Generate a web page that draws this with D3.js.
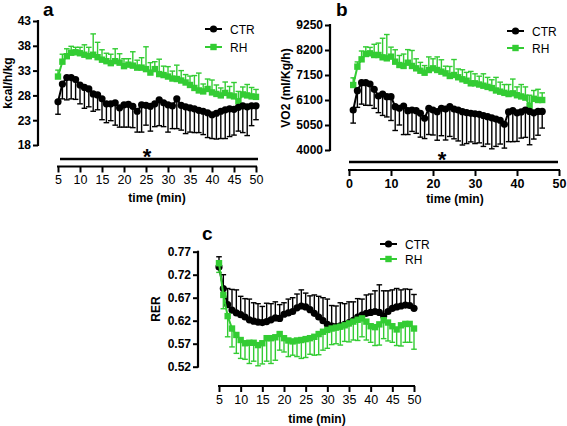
<!DOCTYPE html>
<html><head><meta charset="utf-8">
<script src="https://cdn.jsdelivr.net/npm/d3@7"></script>
<style>body{margin:0;background:#fff}svg{display:block}text{font-family:"Liberation Sans",Arial,sans-serif}</style>
</head><body>
<svg id="c" width="567" height="426"></svg>
<script>
// ---------- DATA ----------
const timeA = d3.range(5, 51);   // 5..50 min
const timeB = d3.range(1, 47);   // 1..46 min
const timeC = d3.range(5, 51);

const ctrA = [26.7,30.3,31.6,31.6,31.2,30.1,29.6,29.3,28.3,28.1,27.3,26.3,26.3,26.5,25.5,26.1,26.2,25.8,24.8,26.1,26.0,25.8,26.3,27.1,26.5,26.1,25.9,27.3,26.0,25.7,25.5,25.3,25.0,24.8,24.5,24.1,24.4,24.8,25.1,25.3,25.2,25.6,25.9,25.7,25.9,25.9];
const ctrAErr = [2.5,3.0,4.5,4.3,4.0,3.8,4.2,3.6,3.5,3.0,4.2,3.8,3.4,4.5,3.9,4.5,4.6,4.3,4.2,5.5,4.0,5.0,4.6,5.2,4.8,5.5,4.6,6.0,5.0,5.4,4.9,4.8,4.5,4.7,5.0,4.8,5.2,5.5,5.8,5.6,5.2,4.8,5.4,5.8,4.0,2.8];
const rhA = [31.8,34.8,35.9,36.6,36.7,36.5,36.2,35.9,36.2,35.7,35.2,34.9,34.5,34.9,34.6,33.9,34.2,34.0,33.6,33.6,33.3,32.6,33.3,32.3,32.1,31.8,31.4,31.3,31.0,30.6,30.1,29.5,29.0,28.8,29.3,28.6,28.3,28.0,28.5,28.0,27.8,26.8,28.2,28.0,27.8,27.7];
const rhAErr = [1.3,1.5,1.5,1.3,1.0,1.2,2.0,1.8,4.2,3.0,2.0,1.6,1.8,2.5,1.8,1.5,1.2,2.8,1.5,2.0,4.5,2.0,1.5,3.0,1.8,2.0,1.5,2.8,2.0,1.6,1.8,2.5,3.5,1.5,2.0,2.5,1.8,1.5,2.2,1.8,2.8,2.0,1.5,2.2,1.8,1.5];

const ctrB = [5680,6491,6827,6827,6772,6549,6268,6352,6239,6239,5819,5750,5848,5650,5680,5650,5540,5330,5750,5680,5610,5750,5720,5819,5720,5680,5610,5570,5540,5520,5500,5450,5400,5350,5300,5250,5080,5600,5650,5560,5600,5680,5620,5560,5620,5620];
const ctrBErr = [550,700,900,950,900,800,700,900,850,1000,1000,700,1200,1000,900,950,1000,850,1100,1050,1200,1150,1300,1250,1250,1300,1400,1300,1200,1250,1200,1300,1150,1300,1150,1000,1000,1250,1300,1200,1100,1150,1400,1100,1000,700];
const rhB = [6730,7500,7808,8032,8060,7990,7990,7893,7850,7920,7710,7570,7530,7666,7530,7430,7330,7246,7360,7430,7360,7290,7220,7108,7150,7054,6970,6910,6800,6800,6750,6700,6650,6600,6500,6450,6400,6350,6380,6300,6250,6200,5850,6150,6100,6100];
const rhBErr = [300,200,350,300,250,450,500,800,1000,400,500,400,500,550,650,400,350,300,550,400,550,500,300,400,650,350,400,350,500,400,350,500,400,350,550,400,350,400,600,350,500,450,450,350,450,300];

const ctrC = [0.737,0.690,0.655,0.643,0.637,0.633,0.628,0.622,0.619,0.617,0.616,0.618,0.622,0.626,0.625,0.634,0.637,0.640,0.648,0.652,0.650,0.644,0.636,0.628,0.620,0.612,0.608,0.607,0.609,0.612,0.616,0.621,0.628,0.632,0.636,0.638,0.640,0.638,0.630,0.640,0.647,0.650,0.652,0.654,0.653,0.647];
const ctrCErr = [0.022,0.030,0.035,0.045,0.050,0.040,0.040,0.045,0.040,0.040,0.035,0.040,0.035,0.035,0.030,0.025,0.030,0.030,0.030,0.035,0.030,0.030,0.040,0.045,0.050,0.055,0.045,0.045,0.050,0.045,0.045,0.040,0.040,0.035,0.040,0.040,0.045,0.060,0.055,0.045,0.040,0.040,0.035,0.035,0.035,0.030];
const rhC = [0.745,0.676,0.630,0.603,0.589,0.578,0.571,0.572,0.572,0.567,0.571,0.582,0.582,0.584,0.591,0.582,0.577,0.575,0.577,0.578,0.580,0.582,0.585,0.591,0.596,0.600,0.603,0.605,0.607,0.610,0.614,0.618,0.622,0.625,0.618,0.608,0.606,0.612,0.621,0.616,0.608,0.601,0.610,0.613,0.613,0.603];
const rhCErr = [0.020,0.030,0.045,0.040,0.040,0.040,0.035,0.045,0.040,0.045,0.045,0.050,0.055,0.050,0.035,0.030,0.035,0.030,0.035,0.040,0.040,0.035,0.040,0.045,0.040,0.040,0.035,0.035,0.040,0.035,0.040,0.040,0.045,0.040,0.040,0.035,0.040,0.045,0.040,0.040,0.035,0.035,0.045,0.040,0.040,0.045];

const ticksXA = [5,10,15,20,25,30,35,40,45,50];
const ticksYA = [18,23,28,33,38,43];
const ticksXB = [0,10,20,30,40,50];
const ticksYB = [4000,5050,6100,7150,8200,9250];
const ticksXC = [5,10,15,20,25,30,35,40,45,50];
const ticksYC = [0.52,0.57,0.62,0.67,0.72,0.77];
const seriesNames = ["CTR","RH"];

// ---------- DRAW ----------
const svg = d3.select("#c");
const GREEN = "#33cc33";

function panel(o){
  const g = svg.append("g");
  const x = d3.scaleLinear().domain(o.xDom).range(o.xRange);
  const y = d3.scaleLinear().domain(o.yDom).range(o.yRange);
  // y axis
  const ya = g.append("g").attr("transform",`translate(${o.yAxisX},0)`)
    .call(d3.axisLeft(y).tickValues(o.yTicks).tickSize(5).tickPadding(2).tickFormat(o.yFmt || d3.format("d")));
  ya.select(".domain").attr("stroke","#000").attr("stroke-width",2.2).attr("d",`M0,${o.yRange[0]+1}V${o.yRange[1]-1}`);
  ya.selectAll(".tick line").attr("stroke-width",2);
  ya.selectAll("text").attr("font-size",12).attr("font-weight","bold").attr("fill","#000");
  // x axis
  const xa = g.append("g").attr("transform",`translate(0,${o.xAxisY})`)
    .call(d3.axisBottom(x).tickValues(o.xTicks).tickSize(6).tickPadding(3));
  xa.select(".domain").attr("stroke-width",2.2).attr("d",`M${o.xRange[0]-1},0H${o.xRange[1]+1}`);
  xa.selectAll(".tick line").attr("stroke-width",2);
  xa.selectAll("text").attr("font-size",12.5).attr("font-weight",o.xBold?"bold":"normal").attr("fill","#000");
  // titles
  g.append("text").attr("x",o.xTitle[0]).attr("y",o.xTitle[1]).attr("text-anchor","middle")
    .attr("font-size",12).attr("font-weight","bold").text("time (min)");
  g.append("text").attr("transform",`translate(${o.yTitle[0]},${o.yTitle[1]}) rotate(-90)`).attr("text-anchor","middle")
    .attr("font-size",12).attr("font-weight","bold").text(o.yLabel);
  g.append("text").attr("x",o.letter[0]).attr("y",o.letter[1]).attr("font-size",19).attr("font-weight","bold").text(o.letterText);
  // significance bar
  if(o.sig){
    g.append("line").attr("x1",o.sig.x1).attr("x2",o.sig.x2).attr("y1",o.sig.y).attr("y2",o.sig.y).attr("stroke","#000").attr("stroke-width",2.5);
    g.append("text").attr("x",o.sig.sx).attr("y",o.sig.y+5).attr("text-anchor","middle").attr("font-size",22).attr("font-weight","bold").text("*");
  }
  // error bars
  function errs(t, v, e, dir, color){
    const eg = g.append("g").attr("stroke",color).attr("stroke-width",1.4);
    t.forEach((tt,i)=>{
      const xx = x(tt), y0 = y(v[i]), y1 = y(v[i] + dir*e[i]);
      eg.append("line").attr("x1",xx).attr("x2",xx).attr("y1",y0).attr("y2",y1);
      eg.append("line").attr("x1",xx-2.8).attr("x2",xx+2.8).attr("y1",y1).attr("y2",y1);
    });
  }
  const line = d3.line();
  function series(t, v, color, shape){
    g.append("path").attr("d", line(t.map((tt,i)=>[x(tt),y(v[i])]))).attr("fill","none").attr("stroke",color).attr("stroke-width",2);
    t.forEach((tt,i)=>{
      if(shape==="circle") g.append("circle").attr("cx",x(tt)).attr("cy",y(v[i])).attr("r",3.6).attr("fill",color);
      else g.append("rect").attr("x",x(tt)-3.2).attr("y",y(v[i])-3.2).attr("width",6.4).attr("height",6.4).attr("fill",color);
    });
  }
  errs(o.t, o.ctr, o.ctrErr, o.ctrDir, "#000");
  errs(o.t, o.rh, o.rhErr, o.rhDir, GREEN);
  if(o.greenOnTop){ series(o.t,o.ctr,"#000","circle"); series(o.t,o.rh,GREEN,"rect"); }
  else { series(o.t,o.rh,GREEN,"rect"); series(o.t,o.ctr,"#000","circle"); }
  // legend
  const L = o.legend;
  [[seriesNames[0],"#000","circle",0],[seriesNames[1],GREEN,"rect",1]].forEach(([name,col,sh,k])=>{
    const yy = L.y + k*L.dy;
    g.append("line").attr("x1",L.x).attr("x2",L.x+17).attr("y1",yy).attr("y2",yy).attr("stroke",col).attr("stroke-width",2);
    if(sh==="circle") g.append("circle").attr("cx",L.x+8.5).attr("cy",yy).attr("r",3.6).attr("fill",col);
    else g.append("rect").attr("x",L.x+5.3).attr("y",yy-3.2).attr("width",6.4).attr("height",6.4).attr("fill",col);
    g.append("text").attr("x",L.x+25).attr("y",yy+4.5).attr("font-size",12).text(name);
  });
}

panel({t:timeA, ctr:ctrA, ctrErr:ctrAErr, ctrDir:-1, rh:rhA, rhErr:rhAErr, rhDir:1,
  xDom:[5,50], xRange:[58,256], yDom:[18,43], yRange:[145,21], yAxisX:38, xAxisY:166.5,
  xTicks:ticksXA, yTicks:ticksYA, xBold:false, xTitle:[157,202], yTitle:[12,83], yLabel:"kcal/h/kg",
  letter:[43,16], letterText:"a", sig:{x1:60,x2:258,y:159,sx:147},
  legend:{x:205,y:29,dy:18}});

panel({t:timeB, ctr:ctrB, ctrErr:ctrBErr, ctrDir:-1, rh:rhB, rhErr:rhBErr, rhDir:1,
  xDom:[0,50], xRange:[349,559], yDom:[4000,9250], yRange:[150,25], yAxisX:330, xAxisY:170,
  xTicks:ticksXB, yTicks:ticksYB, xBold:true, xTitle:[455,203], yTitle:[290,88], yLabel:"VO2 (ml/Kg/h)",
  letter:[336,16], letterText:"b", sig:{x1:349,x2:558,y:162,sx:442},
  legend:{x:507,y:31,dy:17}});

panel({t:timeC, ctr:ctrC, ctrErr:ctrCErr, ctrDir:1, rh:rhC, rhErr:rhCErr, rhDir:-1,
  xDom:[5,50], xRange:[219,414], yDom:[0.52,0.77], yRange:[366.7,251.7], yAxisX:198, xAxisY:386,
  xTicks:ticksXC, yTicks:ticksYC, xBold:false, xTitle:[317,423], yTitle:[160,309], yLabel:"RER",
  yFmt:d3.format(".2f"), letter:[202,240], letterText:"c", sig:null, greenOnTop:true,
  legend:{x:380,y:244,dy:15}});
</script>
</body></html>
